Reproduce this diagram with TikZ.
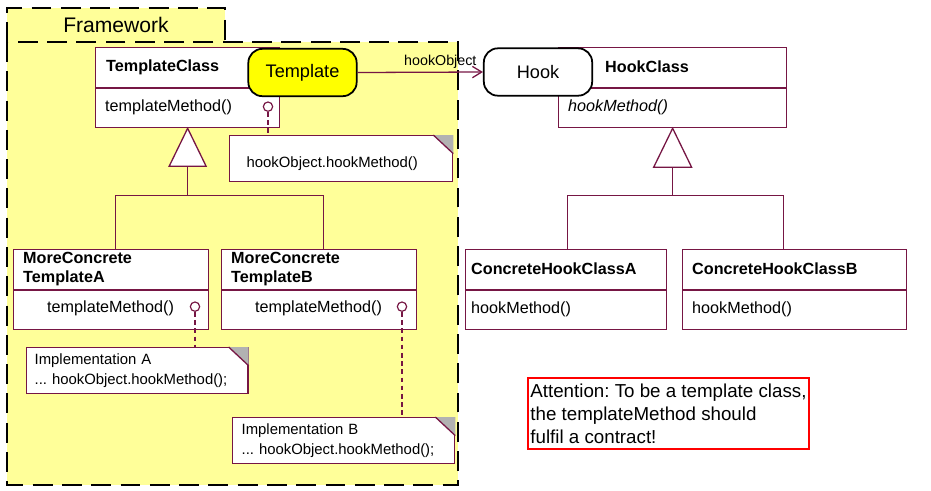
\documentclass[tikz,border=0pt]{standalone}
\usepackage{fontspec}
\setmainfont{Liberation Sans}
\usetikzlibrary{positioning, arrows.meta, calc}

\definecolor{umlline}{RGB}{118,22,68}
\definecolor{fwyellow}{RGB}{255,255,153}
\definecolor{roleyellow}{RGB}{255,255,0}

\begin{document}
\frenchspacing
\begin{tikzpicture}[
    x=0.03cm, y=-0.03cm,
    classbox/.style={rectangle, draw=umlline, fill=white, line width=1.1pt, anchor=north west, minimum height=2.4cm, inner sep=0pt},
    divider/.style={draw=umlline, line width=1.8pt},
    clsname/.style={anchor=west, align=left, inner sep=0pt, font=\fontsize{13.8}{17}\selectfont\bfseries},
    method/.style={anchor=west, inner sep=0pt, font=\fontsize{13.8}{17}\selectfont},
    role/.style={rectangle, draw=black, line width=1.5pt, rounded corners=0.42cm, minimum width=3.25cm, minimum height=1.42cm, font=\fontsize{15.5}{18}\selectfont},
    note/.style={rectangle, draw=umlline, fill=white, line width=1.1pt, anchor=north west, minimum height=1.38cm, align=left, inner xsep=0.25cm, text width=6.16cm, font=\fontsize{12.7}{17}\selectfont},
    lolli/.style={circle, draw=umlline, line width=1pt, fill=white, minimum size=0.28cm, inner sep=0pt},
    umlconn/.style={draw=umlline, line width=1.1pt},
    dashline/.style={draw=umlline, line width=1pt, dash pattern=on 4pt off 3pt},
    frameline/.style={draw=black, line width=2.4pt, dash pattern=on 17pt off 8pt},
    arrow/.style={-{Straight Barb[length=2.8mm, width=3.4mm]}, draw=umlline, line width=1.1pt}
]
\useasboundingbox (0,0) rectangle (931,490);

% Framework package
\fill[fwyellow] (7,8) rectangle (225,42);
\fill[fwyellow] (7,42) rectangle (458,485);
\draw[frameline] (7,42) rectangle (458,485);
\draw[frameline] (7,42) |- (225,8) -- (225,42);
\node[font=\fontsize{18}{21}\selectfont] (fwlabel) at (116,25) {Framework};

% Template side
\node[classbox, minimum width=5.52cm] (tc) at (95,47) {};
\draw[divider] (tc.west) -- (tc.east);
\node[clsname] at ($(tc.north west)+(11,20)$) {TemplateClass};
\node[method] at ($(tc.west)+(10,20)$) {templateMethod()};
\node[lolli] (tcl) at ($(tc.west)+(173,19)$) {};

\node[classbox, minimum width=5.85cm] (mA) at (13,249) {};
\draw[divider] (mA.west) -- (mA.east);
\node[clsname] at ($(mA.north west)+(10,20)$) {MoreConcrete\\TemplateA};
\node[method] at ($(mA.west)+(34,19)$) {templateMethod()};
\node[lolli] (al) at ($(mA.west)+(182,17)$) {};

\node[classbox, minimum width=5.85cm] (mB) at (221,249) {};
\draw[divider] (mB.west) -- (mB.east);
\node[clsname] at ($(mB.north west)+(10,20)$) {MoreConcrete\\TemplateB};
\node[method] at ($(mB.west)+(34,19)$) {templateMethod()};
\node[lolli] (bl) at ($(mB.west)+(181,17)$) {};

% inheritance (template)
\draw[umlconn, fill=white] (tc.south) -- ++(-18.5,38) -- ++(37,0) -- cycle;
\coordinate (tbase) at ($(tc.south)+(0,38)$);
\coordinate (tsplit) at ($(tc.south)+(0,67)$);
\draw[umlconn] (tbase) -- (tsplit);
\draw[umlconn] ([xshift=0.135cm]mA.north) |- (tsplit) -| ([xshift=0.135cm]mB.north);

% notes
\node[note, inner xsep=0.51cm, text width=5.67cm] (tnote) at (229,135) {\mbox{}\\hookObject.hookMethod()};
\node[note, inner xsep=0.24cm] (noteA) at (26,347) {Implementation A\\... hookObject.hookMethod();};
\node[note, inner xsep=0.27cm, text width=6.12cm] (noteB) at (232,417) {Implementation B\\... hookObject.hookMethod();};
\foreach \n in {tnote, noteA, noteB} {
    \fill[gray!60] ([xshift=-0.6cm]\n.north east) -- (\n.north east) -- ([yshift=-0.56cm]\n.north east) -- cycle;
    \draw[umlconn] ([xshift=-0.6cm]\n.north east) -- ([yshift=-0.56cm]\n.north east);
}
\foreach \l/\n in {tcl/tnote, al/noteA, bl/noteB} {
    \draw[dashline] (\l.south) -- (\l.south |- \n.north);
}

% Hook side
\node[classbox, minimum width=6.84cm] (hc) at (558,47) {};
\draw[divider] (hc.west) -- (hc.east);
\node[clsname] at ($(hc.north west)+(47,20)$) {HookClass};
\node[method, font=\fontsize{13.8}{17}\selectfont\itshape] at ($(hc.west)+(10,20)$) {hookMethod()};

\node[classbox, minimum width=6.03cm] (chA) at (465,249) {};
\draw[divider] (chA.west) -- (chA.east);
\node[clsname] at ($(chA.north west)+(6,20)$) {ConcreteHookClassA};
\node[method] at ($(chA.west)+(6,20)$) {hookMethod()};

\node[classbox, minimum width=6.72cm] (chB) at (682,249) {};
\draw[divider] (chB.west) -- (chB.east);
\node[clsname] at ($(chB.north west)+(10,20)$) {ConcreteHookClassB};
\node[method] at ($(chB.west)+(10,20)$) {hookMethod()};

% inheritance (hook)
\draw[umlconn, fill=white] (hc.south) -- ++(-19,39) -- ++(38,0) -- cycle;
\coordinate (hbase) at ($(hc.south)+(0,39)$);
\coordinate (hsplit) at ($(hc.south)+(0,67)$);
\draw[umlconn] (hbase) -- (hsplit);
\draw[umlconn] ([xshift=0.045cm]chA.north) |- (hsplit) -| ([xshift=-0.33cm]chB.north);

% roles
\node[role, fill=roleyellow] (tmpl) at (302.5,72.5) {Template};
\node[role, fill=white] (hook) at (538,72) {Hook};
\draw[arrow] (tmpl.east) -- (hook.west)
    node[pos=0.66, above=-1pt, font=\fontsize{12.2}{14}\selectfont] {hookObject};

% contract remark
\node[rectangle, draw=red, line width=1.6pt, anchor=north west, minimum width=8.43cm, minimum height=2.13cm, align=left, inner xsep=0.03cm, font=\fontsize{16}{19.6}\selectfont] (attn) at (527,377)
    {Attention: To be a template class,\\the templateMethod should\\fulfil a contract!};

\end{tikzpicture}
\end{document}
